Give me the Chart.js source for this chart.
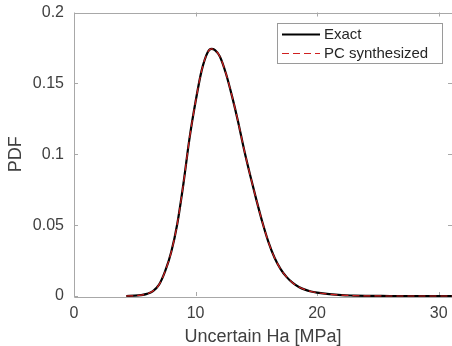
<!DOCTYPE html>
<html>
<head>
<meta charset="utf-8">
<script src="https://cdn.jsdelivr.net/npm/chart.js@4/dist/chart.umd.min.js"></script>
<style>
html,body{margin:0;padding:0;background:#fff;overflow:hidden;}
#wrap{width:452px;height:346px;}
</style>
</head>
<body>
<div id="wrap"><canvas id="c" width="452" height="346"></canvas></div>
<script>
// ---- data ----
const xValues = [4.3, 5, 5.5, 6, 6.5, 7, 7.5, 8, 8.5, 9, 9.5, 10, 10.5, 11, 11.3, 11.6, 12, 12.5, 13, 13.5, 14, 14.5, 15, 15.5, 16, 16.5, 17, 17.5, 18, 18.5, 19, 19.5, 20, 21, 22, 23, 24, 25, 26, 28, 31.1];
const exactPdf = [0, 0.0002, 0.0006, 0.0015, 0.0035, 0.0080, 0.0175, 0.031, 0.051, 0.079, 0.111, 0.137, 0.159, 0.172, 0.1743, 0.1735, 0.169, 0.157, 0.141, 0.123, 0.103, 0.085, 0.068, 0.052, 0.038, 0.027, 0.019, 0.0133, 0.0092, 0.0064, 0.0045, 0.0032, 0.0024, 0.0013, 0.0006, 0.0003, 0.0001, 0.00005, 0, 0, 0];
const pcPdf   = [0, 0.0002, 0.0006, 0.0015, 0.0035, 0.0080, 0.0175, 0.031, 0.051, 0.079, 0.111, 0.137, 0.159, 0.172, 0.1743, 0.1735, 0.169, 0.157, 0.141, 0.123, 0.103, 0.085, 0.068, 0.052, 0.038, 0.027, 0.019, 0.0133, 0.0092, 0.0064, 0.0045, 0.0032, 0.0024, 0.0013, 0.0006, 0.0003, 0.0001, 0.00005, 0, 0, 0];
const seriesNames = ['Exact', 'PC synthesized'];
const xTicks = [0, 10, 20, 30];
const yTicks = [0, 0.05, 0.1, 0.15, 0.2];
const xTitle = 'Uncertain Ha [MPa]';
const yTitle = 'PDF';

const FONT = "'Liberation Sans', Arial, sans-serif";
const TXT = '#404040';
const AX = '#a8a8a8';

const boxPlugin = {
  id: 'boxAxes',
  beforeDatasetsDraw(chart) {
    const {ctx, chartArea: a, scales} = chart;
    ctx.save();
    ctx.strokeStyle = AX;
    ctx.lineWidth = 1;
    ctx.beginPath();
    ctx.rect(Math.round(a.left) + 0.5, Math.round(a.top) + 0.5, Math.round(a.right - a.left), Math.round(a.bottom - a.top));
    ctx.stroke();
    const tl = 4;
    ctx.beginPath();
    xTicks.forEach(v => {
      const px = Math.round(scales.x.getPixelForValue(v)) + 0.5;
      ctx.moveTo(px, a.bottom); ctx.lineTo(px, a.bottom - tl);
      ctx.moveTo(px, a.top); ctx.lineTo(px, a.top + tl);
    });
    yTicks.forEach(v => {
      const py = Math.round(scales.y.getPixelForValue(v)) + 0.5;
      ctx.moveTo(a.left, py); ctx.lineTo(a.left + tl, py);
      ctx.moveTo(a.right, py); ctx.lineTo(a.right - tl, py);
    });
    ctx.stroke();
    ctx.restore();
  },
  afterDraw(chart) {
    const {ctx} = chart;
    const x0 = 277.5, y0 = 23.5, w = 165, h = 40;
    ctx.save();
    ctx.fillStyle = '#fff';
    ctx.fillRect(x0, y0, w, h);
    ctx.strokeStyle = '#9a9a9a';
    ctx.lineWidth = 1;
    ctx.strokeRect(x0, y0, w, h);
    ctx.font = '15px ' + FONT;
    ctx.textBaseline = 'middle';
    ctx.fillStyle = '#262626';
    chart.data.datasets.forEach((ds, i) => {
      const yy = 34.5 + i * 19;
      ctx.strokeStyle = ds.borderColor;
      ctx.lineWidth = ds.borderWidth;
      ctx.setLineDash(ds.borderDash || []);
      ctx.beginPath();
      ctx.moveTo(282, yy); ctx.lineTo(320, yy);
      ctx.stroke();
      ctx.setLineDash([]);
      ctx.fillText(ds.label, 324, yy);
    });
    ctx.restore();
  }
};

new Chart(document.getElementById('c'), {
  type: 'line',
  data: {
    datasets: [
      {
        label: seriesNames[0],
        data: xValues.map((x, i) => ({x, y: exactPdf[i]})),
        borderColor: '#000000',
        borderWidth: 2.2,
        pointRadius: 0,
        tension: 0.4,
        cubicInterpolationMode: 'monotone',
        clip: 4,
        order: 2
      },
      {
        label: seriesNames[1],
        data: xValues.map((x, i) => ({x, y: pcPdf[i]})),
        borderColor: '#d02020',
        borderWidth: 1.2,
        borderDash: [7, 4],
        pointRadius: 0,
        tension: 0.4,
        cubicInterpolationMode: 'monotone',
        clip: 4,
        order: 1
      }
    ]
  },
  options: {
    responsive: false,
    animation: false,
    devicePixelRatio: 1,
    layout: {padding: {top: 12.5, right: -2, left: 0, bottom: 0}},
    plugins: {legend: {display: false}, tooltip: {enabled: false}},
    scales: {
      x: {
        type: 'linear',
        min: 0, max: 31.1,
        afterBuildTicks: s => { s.ticks = xTicks.map(v => ({value: v})); },
        afterFit: s => { s.height = 50; s.paddingLeft = 0; s.paddingRight = 0; },
        grid: {display: false, drawTicks: false},
        border: {display: false},
        ticks: {color: TXT, font: {family: FONT, size: 16}, padding: 8, maxRotation: 0,
                callback: v => String(v)},
        title: {display: true, text: xTitle, color: TXT, font: {family: FONT, size: 18}, padding: {top: 0, bottom: -2}}
      },
      y: {
        type: 'linear',
        min: 0, max: 0.2,
        afterBuildTicks: s => { s.ticks = yTicks.map(v => ({value: v})); },
        afterFit: s => { s.width = 74; s.paddingTop = 0; s.paddingBottom = 0; },
        grid: {display: false, drawTicks: false},
        border: {display: false},
        ticks: {color: TXT, font: {family: FONT, size: 16}, padding: 10,
                callback: v => String(v)},
        title: {display: true, text: yTitle, color: TXT, font: {family: FONT, size: 18}, padding: {top: 5, bottom: 0}}
      }
    }
  },
  plugins: [boxPlugin]
});
</script>
</body>
</html>
